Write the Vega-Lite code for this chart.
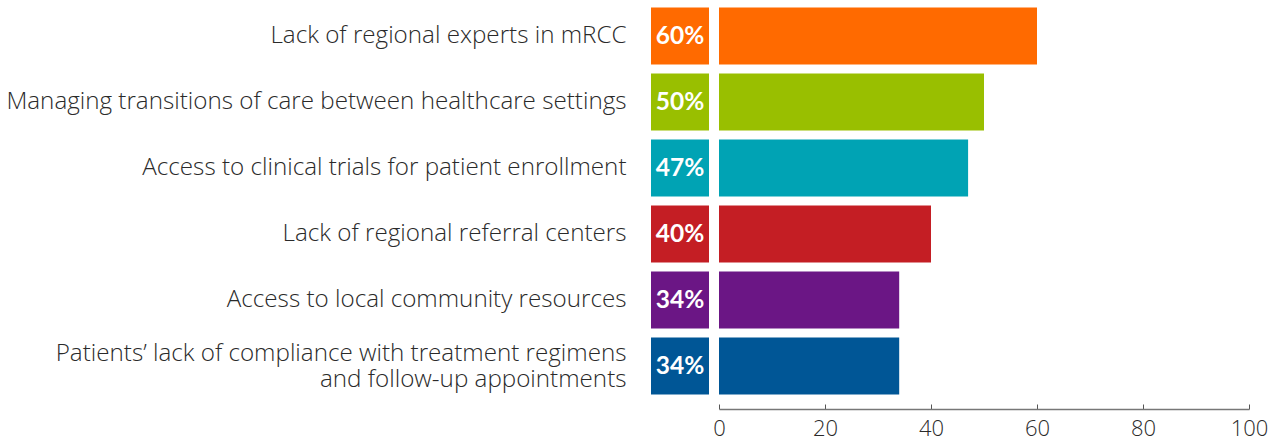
{
  "$schema": "https://vega.github.io/schema/vega-lite/v6.json",
  "padding": {"left": 5, "top": 3, "right": 5, "bottom": 5},
  "background": "white",
  "config": {"view": {"stroke": null}, "concat": {"spacing": 3}},
  "data": {"values": [
    {"item": "Lack of regional experts in mRCC", "value": 60},
    {"item": "Managing transitions of care between healthcare settings", "value": 50},
    {"item": "Access to clinical trials for patient enrollment", "value": 47},
    {"item": "Lack of regional referral centers", "value": 40},
    {"item": "Access to local community resources", "value": 34},
    {"item": "Patients’ lack of compliance with treatment regimens|and follow-up appointments", "value": 34}
  ]},
  "hconcat": [
    {
      "width": 58,
      "height": 396,
      "layer": [
        {
          "mark": {"type": "bar"},
          "encoding": {
            "y": {"field": "item", "type": "nominal", "sort": null,
              "scale": {"paddingInner": 0.14, "paddingOuter": 0.07},
              "axis": {"title": null, "ticks": false, "domain": false, "labelPadding": 25,
                "labelFont": "Open Sans", "labelFontWeight": 300, "labelFontSize": 24.2, "labelColor": "#2a2a2a", "labelLimit": 800,
                "labelLineHeight": 26,
                "labelOffset": {"condition": {"test": "indexof(datum.value, '|') >= 0", "value": -12}, "value": 0},
                "labelExpr": "split(datum.value, '|')"}},
            "x": {"datum": 1, "type": "quantitative", "scale": {"domain": [0, 1]}, "axis": null},
            "color": {"field": "item", "type": "nominal", "sort": null, "legend": null,
              "scale": {"range": ["#FF6A00", "#99BF00", "#00A3B4", "#C41E24", "#6B1685", "#005696"]}}
          }
        },
        {
          "transform": [{"calculate": "datum.value + '%'", "as": "pct"}],
          "mark": {"type": "text", "font": "Lato", "fontWeight": "bold", "fontSize": 24.5, "color": "white", "align": "center", "baseline": "middle", "dy": 1},
          "encoding": {
            "y": {"field": "item", "type": "nominal", "sort": null},
            "x": {"datum": 0.5, "type": "quantitative"},
            "text": {"field": "pct"}
          }
        }
      ]
    },
    {
      "width": 530,
      "height": 396,
      "mark": {"type": "bar"},
      "encoding": {
        "y": {"field": "item", "type": "nominal", "sort": null,
          "scale": {"paddingInner": 0.14, "paddingOuter": 0.07}, "axis": null},
        "x": {"field": "value", "type": "quantitative", "scale": {"domain": [0, 100]},
          "axis": {"title": null, "values": [0, 20, 40, 60, 80, 100], "grid": false, "offset": 10,
            "domainColor": "#777777", "domainWidth": 1.5, "tickColor": "#555555", "tickSize": -5, "tickWidth": 1,
            "labelFont": "Open Sans", "labelFontWeight": 300, "labelFontSize": 22, "labelColor": "#2a2a2a", "labelPadding": 14, "labelFlush": false}},
        "color": {"field": "item", "type": "nominal", "sort": null, "legend": null,
          "scale": {"range": ["#FF6A00", "#99BF00", "#00A3B4", "#C41E24", "#6B1685", "#005696"]}}
      }
    }
  ]
}
